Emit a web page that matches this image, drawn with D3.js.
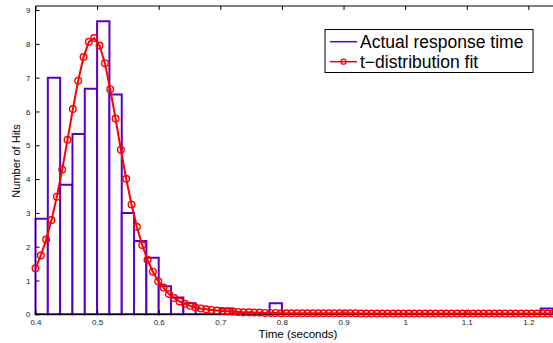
<!DOCTYPE html>
<html>
<head>
<meta charset="utf-8">
<script src="https://cdn.jsdelivr.net/npm/d3@7/dist/d3.min.js"></script>
<style>
  body { margin: 0; background: #fff; }
  svg { display: block; font-family: "Liberation Sans", Arial, sans-serif; }
</style>
</head>
<body>
<div id="chart"></div>
<script>
// Histogram of response times (bin starts, 0.02 s wide) and the t-distribution fit.

const binStarts = [0.40, 0.42, 0.44, 0.46, 0.48, 0.50, 0.52, 0.54, 0.56, 0.58,
  0.60, 0.62, 0.64, 0.66, 0.68, 0.70, 0.72, 0.74, 0.76, 0.78,
  0.80, 0.82, 0.84, 0.86, 0.88, 0.90, 0.92, 0.94, 0.96, 0.98,
  1.00, 1.02, 1.04, 1.06, 1.08, 1.10, 1.12, 1.14, 1.16, 1.18,
  1.20, 1.22];
const binWidth = 0.02;
const hits = [2.83, 7.0, 3.83, 5.33, 6.67, 8.67, 6.5, 3.0, 2.17, 1.67,
  0.83, 0.5, 0.33, 0, 0, 0.17, 0, 0, 0, 0.33,
  0, 0, 0, 0, 0, 0, 0, 0, 0, 0,
  0, 0, 0, 0, 0, 0, 0, 0, 0, 0,
  0, 0.17];

// fit sampled every 0.00866 s from 0.4 to 1.24
const fitStart = 0.4, fitStep = 0.00866;
const fitValues = [1.36, 1.74, 2.21, 2.79, 3.48, 4.28, 5.16, 6.07, 6.91, 7.61,
  8.06, 8.17, 7.95, 7.43, 6.66, 5.79, 4.87, 4.01, 3.25, 2.59,
  2.05, 1.61, 1.26, 0.98, 0.79, 0.60, 0.48, 0.38, 0.31, 0.25,
  0.20, 0.17, 0.15, 0.13, 0.11, 0.10, 0.09, 0.08, 0.07, 0.06,
  0.06, 0.05, 0.05, 0.04, 0.04, 0.04, 0.03, 0.03, 0.03, 0.03,
  0.03, 0.03, 0.03, 0.03, 0.03, 0.03, 0.03, 0.03, 0.03, 0.03,
  0.03, 0.02, 0.02, 0.02, 0.02, 0.02, 0.02, 0.02, 0.02, 0.02,
  0.02, 0.02, 0.02, 0.02, 0.02, 0.02, 0.02, 0.02, 0.02, 0.02,
  0.02, 0.02, 0.02, 0.02, 0.02, 0.02, 0.02, 0.02, 0.02, 0.02,
  0.02, 0.02, 0.02, 0.02, 0.02, 0.02, 0.02, 0.02];

const xTicks = [0.4, 0.5, 0.6, 0.7, 0.8, 0.9, 1, 1.1, 1.2];
const yTicks = [0, 1, 2, 3, 4, 5, 6, 7, 8, 9];
const seriesNames = ["Actual response time", "t\u2212distribution fit"];

const W = 553, H = 343;
const purple = "#5b00c4", red = "#ff0000";

const svg = d3.select("#chart").append("svg")
  .attr("width", W).attr("height", H);

const x = d3.scaleLinear().domain([0.4, 1.24]).range([35.5, 553]);
const y = d3.scaleLinear().domain([0, 9.12]).range([314.3, 6]);

// histogram bars (paths so empty bins still show a baseline stroke)
svg.append("g").selectAll("path")
  .data(binStarts.map((b, i) => ({ b, v: hits[i] })))
  .join("path")
  .attr("d", d => {
    const x0 = x(d.b), x1 = x(d.b + binWidth), y0 = y(0), y1 = y(d.v);
    return `M${x0},${y0}V${y1}H${x1}V${y0}Z`;
  })
  .attr("fill", "#fff")
  .attr("stroke", purple)
  .attr("stroke-width", 2);

// frame: bottom, left, top
const frame = svg.append("g");
frame.append("line").attr("x1", x(0.4)).attr("x2", W).attr("y1", y(0)).attr("y2", y(0))
  .attr("stroke", "#000");
frame.append("line").attr("x1", x(0.4)).attr("x2", W).attr("y1", 6).attr("y2", 6)
  .attr("stroke", "#000");
frame.append("line").attr("x1", x(0.4)).attr("x2", x(0.4)).attr("y1", 6).attr("y2", y(0))
  .attr("stroke", "#000");

// axes with inward ticks
const gx = svg.append("g").attr("transform", `translate(0,${y(0)})`)
  .call(d3.axisBottom(x).tickValues(xTicks).tickSize(-4).tickPadding(5)
    .tickFormat(d3.format("~g")));
const gxTop = svg.append("g").attr("transform", `translate(0,6)`)
  .call(d3.axisTop(x).tickValues(xTicks).tickSize(-4).tickFormat(""));
const gy = svg.append("g").attr("transform", `translate(${x(0.4)},0)`)
  .call(d3.axisLeft(y).tickValues(yTicks).tickSize(-4).tickPadding(5));
[gx, gxTop, gy].forEach(g => {
  g.select(".domain").remove();
  g.selectAll("text").attr("font-size", 8).attr("fill", "#222")
    .attr("font-family", "Liberation Sans, Arial, sans-serif");
});

// fit line with circle markers
const fit = fitValues.map((v, i) => ({ t: fitStart + i * fitStep, v }));
svg.append("path").datum(fit)
  .attr("d", d3.line().x(d => x(d.t)).y(d => y(d.v)))
  .attr("fill", "none").attr("stroke", red).attr("stroke-width", 2);
svg.append("g").selectAll("circle").data(fit).join("circle")
  .attr("cx", d => x(d.t)).attr("cy", d => y(d.v)).attr("r", 3.3)
  .attr("fill", "none").attr("stroke", red).attr("stroke-width", 1.4);

// axis titles
svg.append("text").attr("x", 298).attr("y", 337.5).attr("text-anchor", "middle")
  .attr("font-size", 11.5).text("Time (seconds)");
svg.append("text").attr("transform", "translate(20,161) rotate(-90)")
  .attr("text-anchor", "middle").attr("font-size", 11).text("Number of Hits");

// legend
const lg = svg.append("g");
lg.append("rect").attr("x", 325).attr("y", 29.5).attr("width", 208).attr("height", 43)
  .attr("fill", "#fff").attr("stroke", "#000");
lg.append("line").attr("x1", 330).attr("x2", 357).attr("y1", 41.7).attr("y2", 41.7)
  .attr("stroke", purple).attr("stroke-width", 1.5);
lg.append("line").attr("x1", 330).attr("x2", 357).attr("y1", 61.7).attr("y2", 61.7)
  .attr("stroke", red).attr("stroke-width", 1.5);
lg.append("circle").attr("cx", 343.5).attr("cy", 61.7).attr("r", 2.5)
  .attr("fill", "none").attr("stroke", red).attr("stroke-width", 1.3);
lg.selectAll("text.lbl").data(seriesNames).join("text").attr("class", "lbl")
  .attr("x", 360).attr("y", (d, i) => 47.5 + i * 20)
  .attr("font-size", 17.5).text(d => d);
</script>
</body>
</html>
